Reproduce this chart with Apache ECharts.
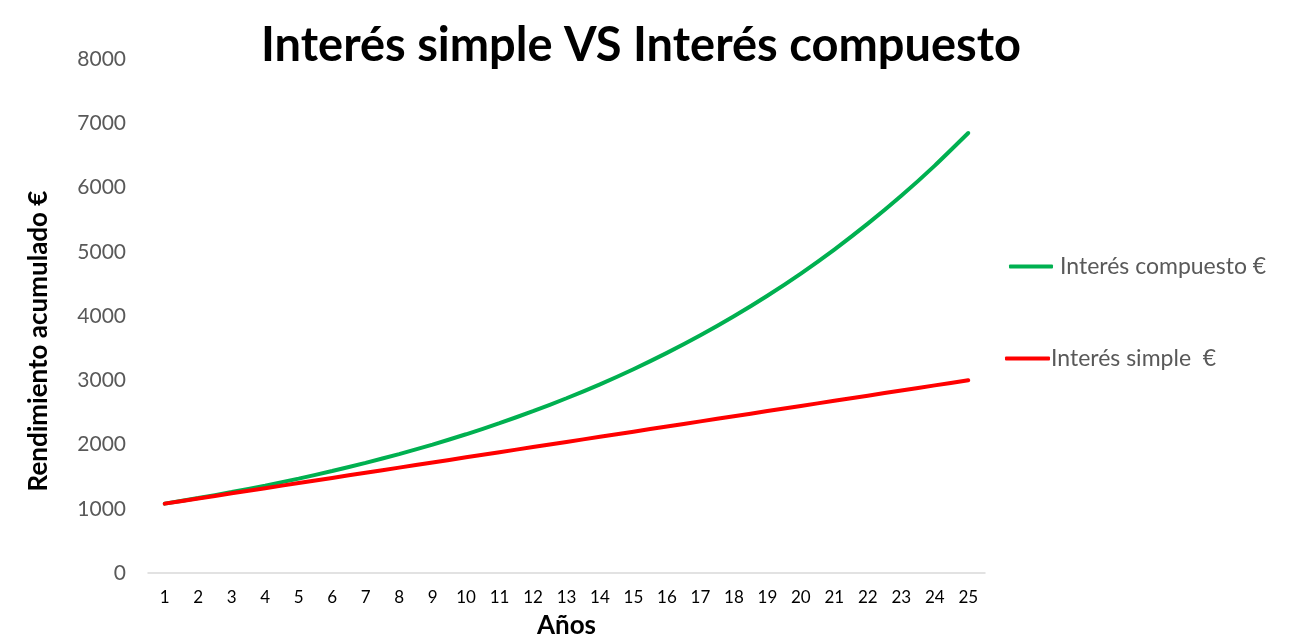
<!DOCTYPE html>
<html>
<head>
<meta charset="utf-8">
<script src="https://cdn.jsdelivr.net/npm/echarts@6/dist/echarts.min.js"></script>
<style>
  html, body { margin: 0; padding: 0; background: #fff; }
  #chart { width: 1290px; height: 644px; }
</style>
</head>
<body>
<div id="chart"></div>
<script>
const years = ['1','2','3','4','5','6','7','8','9','10','11','12','13','14','15','16','17','18','19','20','21','22','23','24','25']
const compuesto = [1080, 1166, 1260, 1360, 1469, 1587, 1714, 1851, 1999, 2159, 2332, 2518, 2720, 2937, 3172, 3426, 3700, 3996, 4316, 4661, 5034, 5437, 5871, 6341, 6848]
const simple = [1080, 1160, 1240, 1320, 1400, 1480, 1560, 1640, 1720, 1800, 1880, 1960, 2040, 2120, 2200, 2280, 2360, 2440, 2520, 2600, 2680, 2760, 2840, 2920, 3000]

const font = 'Lato, "Open Sans", sans-serif'
const chart = echarts.init(document.getElementById('chart'))
chart.setOption({
  animation: false,
  title: {
    text: 'Interés simple VS Interés compuesto',
    left: 636, top: 17, textAlign: 'center',
    textStyle: { fontFamily: font, fontSize: 47, fontWeight: 'bold', color: '#000' }
  },
  legend: [
    {
      data: ['Interés compuesto €'], left: 1004, top: 250, orient: 'vertical',
      itemWidth: 44, itemHeight: 4, itemGap: 10,
      icon: 'roundRect',
      textStyle: { fontFamily: font, fontSize: 23, color: '#595959', padding: [0, 0, 0, 2] }
    },
    {
      data: ['Interés simple  €'], left: 1000, top: 342, orient: 'vertical',
      itemWidth: 45, itemHeight: 4, itemGap: 0,
      icon: 'roundRect',
      textStyle: { fontFamily: font, fontSize: 23, color: '#595959', padding: [0, 0, 0, -4] }
    }
  ],
  grid: { left: 148, right: 305, top: 59, bottom: 68, containLabel: false },
  xAxis: {
    type: 'category', data: years, boundaryGap: true,
    name: 'Años', nameLocation: 'middle', nameGap: 40,
    nameTextStyle: { fontFamily: font, fontSize: 26, fontWeight: 'bold', color: '#000' },
    axisLine: { lineStyle: { color: '#d9d9d9', width: 1.5 } },
    axisTick: { show: false },
    axisLabel: { fontFamily: font, fontSize: 17, color: '#000', margin: 16, interval: 0 }
  },
  yAxis: {
    type: 'value', min: 0, max: 8000, interval: 1000,
    name: 'Rendimiento acumulado €', nameLocation: 'middle', nameGap: 96,
    nameTextStyle: { fontFamily: font, fontSize: 26, fontWeight: 'bold', color: '#000', padding: [0, 50, 0, 0] },
    axisLine: { show: false }, axisTick: { show: false },
    splitLine: { show: false },
    axisLabel: { fontFamily: font, fontSize: 21, color: '#595959', margin: 22, formatter: v => String(v) }
  },
  series: [
    {
      name: 'Interés compuesto €', type: 'line', data: compuesto, smooth: 0.2,
      showSymbol: false, symbol: 'none',
      lineStyle: { color: '#00b050', width: 4, cap: 'round' },
      itemStyle: { color: '#00b050' }
    },
    {
      name: 'Interés simple  €', type: 'line', data: simple, smooth: 0.2,
      showSymbol: false, symbol: 'none',
      lineStyle: { color: '#ff0000', width: 4, cap: 'round' },
      itemStyle: { color: '#ff0000' }
    }
  ]
})
</script>
</body>
</html>
